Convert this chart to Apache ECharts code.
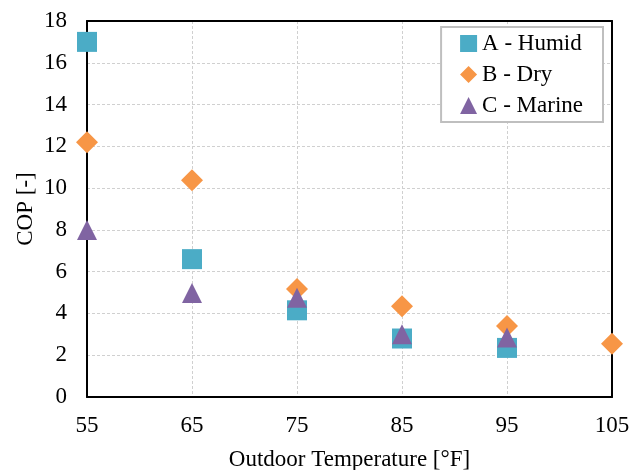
<!DOCTYPE html>
<html lang="en">
<head>
  <meta charset="UTF-8">
  <title>COP vs Outdoor Temperature</title>
  <script src="https://cdn.jsdelivr.net/npm/echarts@6/dist/echarts.min.js"></script>
  <style>
    html, body { margin: 0; padding: 0; background: #fff; }
  </style>
</head>
<body>
<div id="main" style="width: 630px;height:470px;"></div>
<script type="text/javascript">

  // temperatures [°F]
  const tempsA = [55, 65, 75, 85, 95];
  const copA = [17.0, 6.6, 4.15, 2.8, 2.35];        // A - Humid
  const tempsB = [55, 65, 75, 85, 95, 105];
  const copB = [12.2, 10.38, 5.17, 4.35, 3.4, 2.55]; // B - Dry
  const tempsC = [55, 65, 75, 85, 95];
  const copC = [8.0, 4.98, 4.75, 3.0, 2.85];         // C - Marine

  const seriesNames = ['A - Humid', 'B - Dry', 'C - Marine'];
  const font = '"Liberation Serif", "Times New Roman", serif';

  function pairs(xs, ys) {
    return xs.map((x, i) => [x, ys[i]]);
  }

  const gridDash = { color: '#d0d0d0', type: [3, 2], width: 1 };
  // plain black line used for the top / right frame
  const frameAxis = {
    axisLine: { show: true, onZero: false, lineStyle: { color: '#000', width: 2 } },
    axisTick: { show: false },
    axisLabel: { show: false },
    splitLine: { show: false }
  };

  var myChart = echarts.init(document.getElementById('main'));

  myChart.setOption({
    backgroundColor: '#fff',
    animation: false,
    grid: { left: 87, right: 18, top: 21, bottom: 73, outerBoundsMode: 'none' },
    legend: {
      orient: 'vertical',
      right: 27, top: 27,
      padding: [5, 20, 5, 19],
      itemGap: 8,
      itemWidth: 17, itemHeight: 17,
      itemTextGap: 2,
      backgroundColor: '#fff',
      borderColor: '#bfbfbf', borderWidth: 2,
      textStyle: { fontFamily: font, fontSize: 23, lineHeight: 23, color: '#000' },
      data: [
        { name: seriesNames[0], icon: 'rect' },
        { name: seriesNames[1], icon: 'diamond' },
        { name: seriesNames[2], icon: 'triangle' }
      ]
    },
    xAxis: [
      {
        type: 'value',
        min: 55, max: 105, interval: 10,
        name: 'Outdoor Temperature [°F]',
        nameLocation: 'middle', nameGap: 51, nameMoveOverlap: false,
        nameTextStyle: { fontFamily: font, fontSize: 23, color: '#000' },
        axisLine: { onZero: false, lineStyle: { color: '#000', width: 2 } },
        axisTick: { show: false },
        axisLabel: { fontFamily: font, fontSize: 23, color: '#000', margin: 17 },
        splitLine: { show: true, lineStyle: gridDash }
      },
      Object.assign({ type: 'value', min: 55, max: 105, position: 'top' }, frameAxis)
    ],
    yAxis: [
      {
        type: 'value',
        min: 0, max: 18, interval: 2,
        name: 'COP [-]',
        nameLocation: 'middle', nameGap: 50, nameMoveOverlap: false,
        nameTextStyle: { fontFamily: font, fontSize: 23, color: '#000' },
        axisLine: { show: true, onZero: false, lineStyle: { color: '#000', width: 2 } },
        axisTick: { show: false },
        axisLabel: { fontFamily: font, fontSize: 23, color: '#000', margin: 20 },
        splitLine: { show: true, lineStyle: gridDash }
      },
      Object.assign({ type: 'value', min: 0, max: 18, position: 'right' }, frameAxis)
    ],
    series: [
      {
        name: seriesNames[0], type: 'scatter', symbol: 'rect', symbolSize: 20,
        clip: false, itemStyle: { color: '#4BACC6', opacity: 1 },
        data: pairs(tempsA, copA)
      },
      {
        name: seriesNames[1], type: 'scatter', symbol: 'diamond', symbolSize: 22,
        clip: false, itemStyle: { color: '#F79646', opacity: 1 },
        data: pairs(tempsB, copB)
      },
      {
        name: seriesNames[2], type: 'scatter', symbol: 'triangle', symbolSize: 20,
        clip: false, itemStyle: { color: '#8064A2', opacity: 1 },
        data: pairs(tempsC, copC)
      }
    ]
  });

</script>
</body>
</html>
